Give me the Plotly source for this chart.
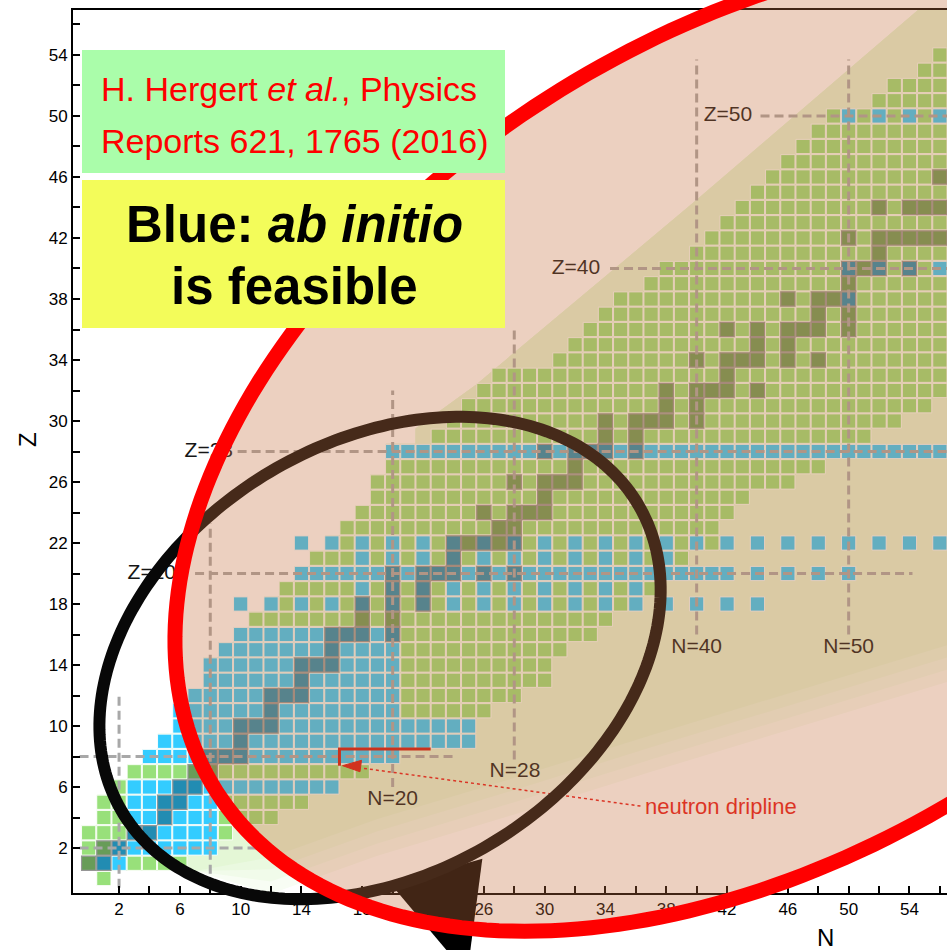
import numpy as np
import plotly.graph_objects as go

# ------------------------------------------------------------------ data
# Rows of the nuclide chart: for every proton number Z the first and last
# neutron number N of the measured isotopes shown.
Z_ROWS = list(range(55))
N_FIRST = [1, 0, 0, 0, 1, 1, 2, 3, 4, 5, 6, 6, 7, 8, 8, 9, 10, 11, 12, 13,
           14, 15, 16, 17, 18, 19, 19, 20, 20, 23, 24, 25, 26, 27, 31, 32, 33, 34, 35, 37,
           38, 40, 41, 42, 43, 44, 45, 46, 47, 48, 49, 52, 53, 55, 56]
N_LAST = [1, 6, 8, 9, 12, 14, 16, 18, 20, 25, 25, 26, 28, 30, 30, 31, 33, 34, 35, 37,
          42, 39, 41, 41, 42, 43, 46, 48, 56, 51, 53, 55] + [56] * 23

# isolated predicted isotopes outside the measured rows
EXTRA_N = {
    18: [10, 36, 38, 40, 42, 44],
    20: [44, 46, 48, 50],
    22: [14, 42, 44, 46, 48, 50, 52, 54, 56],
}

# nuclei reachable with ab initio methods: (first N, last N, step) per Z
BLUE_SPANS = {
    1: [(1, 2, 1)], 2: [(2, 8, 1)], 3: [(3, 8, 1)], 4: [(3, 8, 1)], 5: [(3, 8, 1)],
    6: [(3, 16, 1)], 8: [(4, 20, 1)], 9: [(5, 25, 1)], 10: [(6, 25, 1)],
    11: [(6, 20, 1)], 12: [(7, 20, 1)], 13: [(8, 20, 1)], 14: [(8, 20, 1)],
    15: [(9, 20, 1)], 16: [(10, 20, 1)],
    18: [(10, 44, 2)], 19: [(18, 36, 2)], 20: [(14, 42, 1), (44, 50, 2)],
    21: [(18, 38, 2)], 22: [(14, 56, 2)], 28: [(20, 56, 1)],
    38: [(50, 50, 1)], 40: [(50, 56, 2)], 50: [(50, 56, 2)],
}

# stable nuclei (N values per Z)
STABLE = {
    1: [0, 1], 2: [1, 2], 3: [3, 4], 4: [5], 5: [5, 6], 6: [6, 7], 7: [7, 8],
    8: [8, 9, 10], 9: [10], 10: [10, 11, 12], 11: [12], 12: [12, 13, 14], 13: [14],
    14: [14, 15, 16], 15: [16], 16: [16, 17, 18, 20], 17: [18, 20], 18: [18, 20, 22],
    19: [20, 22], 20: [20, 22, 23, 24, 26, 28], 21: [24], 22: [24, 25, 26, 27, 28],
    23: [27, 28], 24: [26, 28, 29, 30], 25: [30], 26: [28, 30, 31, 32], 27: [32],
    28: [30, 32, 33, 34, 36], 29: [34, 36], 30: [34, 36, 37, 38, 40], 31: [38, 40],
    32: [38, 40, 41, 42, 44], 33: [42], 34: [40, 42, 43, 44, 46, 48], 35: [44, 46],
    36: [42, 44, 46, 47, 48, 50], 37: [48, 50], 38: [46, 48, 49, 50], 39: [50],
    40: [50, 51, 52, 54], 41: [52], 42: [50, 52, 53, 54, 55, 56], 44: [52, 54, 55, 56],
    46: [56],
}

TICK_VALS = list(range(2, 57, 2))
TICK_TEXT = [str(v) if v % 4 == 2 else "" for v in TICK_VALS]

# magic-number guide lines: (value, start, end)
MAGIC_H = [(2, -0.6, 11.7), (8, -0.6, 24.2), (20, 7.0, 54.2),
           (28, 9.8, 57.0), (40, 34.3, 57.0), (50, 44.2, 57.0)]
MAGIC_V = [(2, -0.6, 12.0), (8, -0.6, 23.3), (20, 6.0, 32.0),
           (28, 7.8, 36.0), (40, 16.0, 53.7), (50, 16.0, 53.7)]
LABEL_TEXT = ["Z=20", "Z=28", "Z=40", "Z=50"]
LABEL_N = [5.75, 9.5, 33.65, 43.65]
LABEL_Z = [20, 28, 40, 50]
NLABEL_TEXT = ["N=20", "N=28", "N=40", "N=50"]
NLABEL_N = [20, 28.05, 40, 50]
NLABEL_Z = [5.15, 6.98, 15.1, 15.1]

# ------------------------------------------------------------- geometry
W, H = 947, 950
ML, MR, MT, MB = 73, 0, 10, 57
PW, PH = W - ML - MR, H - MT - MB
XR = (-1.03, 56.47)
YR = (-0.95, 56.95)


def to_paper(n, z):
    return (n - XR[0]) / (XR[1] - XR[0]), (z - YR[0]) / (YR[1] - YR[0])


def px_paper(x, y):
    return (x - ML) / PW, (H - MB - y) / PH


def ellipse_path(cn, cz, a, b, deg, npts=260):
    t = np.linspace(0, 2 * np.pi, npts, endpoint=False)
    th = np.radians(deg)
    xs = cn + a * np.cos(t) * np.cos(th) - b * np.sin(t) * np.sin(th)
    zs = cz + a * np.cos(t) * np.sin(th) + b * np.sin(t) * np.cos(th)
    pts = [to_paper(x, z) for x, z in zip(xs, zs)]
    return "M " + " L ".join(f"{x:.5f},{y:.5f}" for x, y in pts) + " Z"


def poly_path(points):
    pts = [to_paper(n, z) for n, z in points]
    return "M " + " L ".join(f"{x:.5f},{y:.5f}" for x, y in pts) + " Z"


# ------------------------------------------------------------- cells
groups = {"green": ([], []), "blue": ([], []), "stable_green": ([], []), "stable_blue": ([], [])}
for z, n0, n1 in zip(Z_ROWS, N_FIRST, N_LAST):
    ns = list(range(n0, n1 + 1)) + EXTRA_N.get(z, [])
    blue = set()
    for a, b, s in BLUE_SPANS.get(z, []):
        blue.update(range(a, b + 1, s))
    stab = set(STABLE.get(z, []))
    for n in ns:
        key = ("stable_" if n in stab else "") + ("blue" if n in blue else "green")
        groups[key][0].append(n)
        groups[key][1].append(z)

STYLE = {
    "green": ("rgb(152,224,122)", "white", 0.9),
    "blue": ("rgb(51,204,255)", "white", 0.9),
    "stable_green": ("rgb(104,156,88)", "rgb(150,150,150)", 1.2),
    "stable_blue": ("rgb(34,140,178)", "rgb(150,150,150)", 1.2),
}

fig = go.Figure()

# shaded band of bound nuclei: proton side follows the measured rows,
# neutron side fades out gradually
upper = []
for z in range(1, 29):
    e = N_FIRST[z] - 0.45
    upper += [(e, z - 0.5), (e, z + 0.5)]
upper += [(21.5, 28.5), (21.5, 29.5), (25.5, 32.4), (40.0, 44.5), (54.5, 56.9),
          (56.5, 58.6), (60, 58.6)]
lower = [(60, 15.8), (56.5, 15.3), (45, 11.8), (37, 9.4), (28, 6.6), (19, 3.9),
         (12, 1.4), (7.0, 0.5)]
band_rgb = np.array([228, 247, 214])
for k in (3, 2, 1, 0):
    shifted = [(n, z - 0.8 * k if n >= 10 else z) for n, z in lower]
    poly = upper + shifted
    c = band_rgb + (255 - band_rgb) * k / 4.0
    fig.add_trace(go.Scatter(x=[p[0] for p in poly], y=[p[1] for p in poly], mode="lines",
                             fill="toself",
                             fillcolor=f"rgb({int(c[0])},{int(c[1])},{int(c[2])})",
                             line=dict(width=0), hoverinfo="skip", showlegend=False))

for key, (xs, ys) in groups.items():
    fc, lc, lw = STYLE[key]
    fig.add_trace(go.Scatter(x=xs, y=ys, mode="markers", hoverinfo="skip", showlegend=False,
                             marker=dict(symbol="square", size=14.2, color=fc,
                                         line=dict(color=lc, width=lw))))

# magic-number guide lines
gx, gy = [], []
for v, a, b in MAGIC_H:
    gx += [a, b, None]
    gy += [v, v, None]
for v, a, b in MAGIC_V:
    gx += [v, v, None]
    gy += [a, b, None]
fig.add_trace(go.Scatter(x=gx, y=gy, mode="lines", hoverinfo="skip", showlegend=False,
                         line=dict(color="rgb(168,168,168)", width=3, dash="9px,5px")))

# neutron dripline marker for oxygen
fig.add_trace(go.Scatter(x=[16.5, 16.5, 22.5], y=[7.4, 8.5, 8.5], mode="lines",
                         hoverinfo="skip", showlegend=False,
                         line=dict(color="rgb(205,20,12)", width=3)))
fig.add_trace(go.Scatter(x=[36.3, 17.9], y=[4.75, 7.25], mode="lines", hoverinfo="skip",
                         showlegend=False, line=dict(color="rgb(230,25,25)", width=1.5, dash="dot")))
fig.add_trace(go.Scatter(x=[16.7, 17.95, 17.85, 16.7], y=[7.4, 7.75, 7.0, 7.4], mode="lines",
                         fill="toself", fillcolor="rgb(215,20,15)", hoverinfo="skip",
                         showlegend=False, line=dict(color="rgb(215,20,15)", width=1)))

LBL_FONT = dict(family="Liberation Sans, Arial, sans-serif", size=21, color="#161616")
fig.add_trace(go.Scatter(x=LABEL_N, y=LABEL_Z, text=LABEL_TEXT, mode="text",
                         textposition="middle left", textfont=LBL_FONT,
                         hoverinfo="skip", showlegend=False))
fig.add_trace(go.Scatter(x=NLABEL_N, y=NLABEL_Z, text=NLABEL_TEXT, mode="text",
                         textposition="middle center", textfont=LBL_FONT,
                         hoverinfo="skip", showlegend=False))
fig.add_trace(go.Scatter(x=[36.6], y=[4.62], text=["neutron dripline"], mode="text",
                         textposition="middle right",
                         textfont=dict(family="Liberation Sans, Arial, sans-serif", size=22,
                                       color="rgb(232,22,22)"),
                         hoverinfo="skip", showlegend=False))

# ------------------------------------------------------------- overlays
shapes = []
# speech-bubble ring with its pointer
shapes.append(dict(type="path", xref="paper", yref="paper", layer="above",
                   path=poly_path([(19.9, -0.4), (25.9, 1.3), (24.9, -6.3)]),
                   fillcolor="black", line=dict(width=0)))
shapes.append(dict(type="path", xref="paper", yref="paper", layer="above",
                   path=ellipse_path(19.17, 14.46, 19.74, 14.19, 30.6),
                   fillcolor="rgba(0,0,0,0)", line=dict(color="#080808", width=12)))
# highlighted region
shapes.append(dict(type="path", xref="paper", yref="paper", layer="above",
                   path=ellipse_path(44.51, 28.70, 42.8, 26.65, 32.5),
                   fillcolor="rgba(197,112,64,0.33)", line=dict(color="#ff0000", width=15)))
# text boxes
gx0, gy0 = px_paper(82, 50)
gx1, gy1 = px_paper(505, 173)
shapes.append(dict(type="rect", xref="paper", yref="paper", layer="above",
                   x0=gx0, x1=gx1, y0=gy1, y1=gy0, fillcolor="#aafdaa", line=dict(width=0)))
yx0, yy0 = px_paper(82, 180)
yx1, yy1 = px_paper(505, 328)
shapes.append(dict(type="rect", xref="paper", yref="paper", layer="above",
                   x0=yx0, x1=yx1, y0=yy1, y1=yy0, fillcolor="#f3fc5a", line=dict(width=0)))

annotations = []
ref_font = dict(family="Liberation Sans, Arial, sans-serif", size=34, color="#ff0000")
for txt, ypx in (("H. Hergert <i>et al.</i>, Physics", 89), ("Reports 621, 1765 (2016)", 141)):
    ax_, ay_ = px_paper(99, ypx)
    annotations.append(dict(x=ax_, y=ay_, xref="paper", yref="paper", xanchor="left",
                            yanchor="middle", text=txt, showarrow=False, font=ref_font))
big_font = dict(family="Liberation Sans, Arial, sans-serif", size=51, color="black")
for txt, ypx in (("<b>Blue: <i>ab initio</i></b>", 224), ("<b>is feasible</b>", 287)):
    ax_, ay_ = px_paper(294, ypx)
    annotations.append(dict(x=ax_, y=ay_, xref="paper", yref="paper", xanchor="center",
                            yanchor="middle", text=txt, showarrow=False, font=big_font))
ax_, ay_ = px_paper(825, 938)
annotations.append(dict(x=ax_, y=ay_, xref="paper", yref="paper", text="N", showarrow=False,
                        xanchor="center", yanchor="middle",
                        font=dict(family="Liberation Sans, Arial, sans-serif", size=24, color="black")))
ax_, ay_ = px_paper(27, 440)
annotations.append(dict(x=ax_, y=ay_, xref="paper", yref="paper", text="Z", showarrow=False,
                        textangle=-90, xanchor="center", yanchor="middle",
                        font=dict(family="Liberation Sans, Arial, sans-serif", size=24, color="black")))

axis_common = dict(tickvals=TICK_VALS, ticktext=TICK_TEXT, ticks="inside", ticklen=7,
                   tickwidth=1.8, tickcolor="black", showline=True, linewidth=2,
                   linecolor="black", showgrid=False, zeroline=False,
                   tickfont=dict(family="Liberation Sans, Arial, sans-serif", size=17,
                                 color="black"))

fig.update_layout(
    width=W, height=H,
    margin=dict(l=ML, r=MR, t=MT, b=MB, autoexpand=False),
    plot_bgcolor="white", paper_bgcolor="white", showlegend=False,
    xaxis=dict(range=list(XR), mirror=True, **axis_common),
    yaxis=dict(range=list(YR), mirror=False, **axis_common),
    shapes=shapes, annotations=annotations,
)

fig.write_html("out.html")
